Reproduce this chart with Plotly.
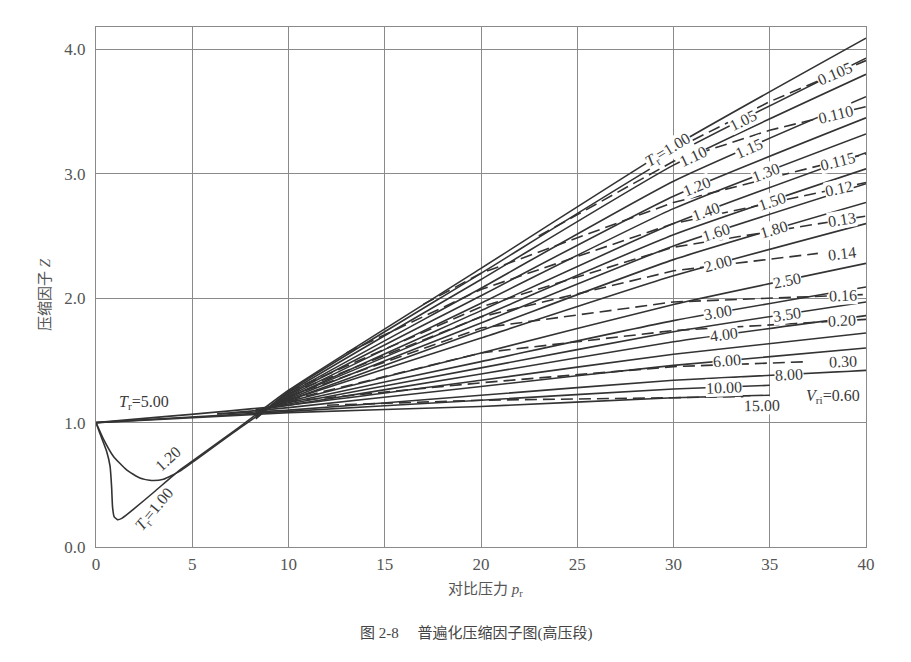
import numpy as np
import plotly.graph_objects as go

# ---------------- data ----------------
# Isotherms (solid lines), reduced temperature T_r
ISO_TR = ["1.00", "1.05", "1.10", "1.15", "1.20", "1.30", "1.40", "1.50", "1.60", "1.80",
          "2.00", "2.50", "3.00", "3.50", "4.00", "5.00", "6.00", "8.00", "10.00", "15.00"]
ISO_START_PR = [None, 8.3, 8.3, 8.3, None, 8.3, 8.3, 8.3, 8.3, 8.3,
                8.3, 8.3, 8.3, 8.3, 8.3, 0.0, 6.3, 6.3, 0.0, 0.0]
ISO_START_Z = [None, 1.03, 1.04, 1.05, None, 1.05, 1.06, 1.07, 1.07, 1.08,
               1.08, 1.09, 1.09, 1.10, 1.10, 1.00, 1.07, 1.07, 1.00, 1.00]
PR_COLS = [10, 20, 30]
ISO_Z10 = [1.26, 1.25, 1.24, 1.23, 1.22, 1.21, 1.20, 1.20, 1.19, 1.18,
           1.18, 1.17, 1.16, 1.15, 1.14, 1.14, 1.12, 1.10, 1.09, 1.08]
ISO_Z20 = [2.24, 2.20, 2.15, 2.08, 2.02, 1.96, 1.90, 1.85, 1.80, 1.74,
           1.68, 1.56, 1.49, 1.44, 1.39, 1.34, 1.29, 1.22, 1.18, 1.13]
ISO_Z30 = [3.22, 3.15, 3.07, 2.94, 2.82, 2.72, 2.60, 2.51, 2.42, 2.31,
           2.18, 1.95, 1.82, 1.73, 1.65, 1.55, 1.46, 1.34, 1.27, 1.20]
ISO_END_PR = [40, 40, 40, 40, 40, 40, 40, 40, 40, 40,
              40, 40, 40, 40, 40, 40, 40, 40, 35, 35]
ISO_Z_END = [4.09, 3.93, 3.80, 3.62, 3.45, 3.32, 3.17, 3.04, 2.92, 2.77,
             2.60, 2.28, 2.09, 1.97, 1.86, 1.72, 1.60, 1.42, 1.30, 1.22]

# low-pressure part of T_r = 1.00 and 1.20
LOW_PR_TR100 = [0, 0.21, 0.55, 0.73, 0.81, 0.86, 0.94, 1.11, 1.34, 2.0, 3.0, 4.36, 5.0, 7.5]
LOW_Z_TR100 = [1.0, 0.91, 0.77, 0.65, 0.485, 0.32, 0.245, 0.22, 0.23, 0.31, 0.44, 0.62, 0.69, 0.97]
LOW_PR_TR120 = [0, 0.38, 0.9, 1.59, 2.28, 2.89, 3.5, 4.36, 5.0, 7.5]
LOW_Z_TR120 = [1.0, 0.87, 0.73, 0.62, 0.555, 0.535, 0.545, 0.61, 0.68, 0.96]

# Constant ideal reduced volume lines (dashed), V_ri
VR_LABELS = ["0.105", "0.110", "0.115", "0.12", "0.13", "0.14", "0.16", "0.20", "0.30", "0.60"]
VR_0105_PR = [31, 35, 40];          VR_0105_Z = [3.27, 3.58, 3.91]
VR_0110_PR = [23, 30, 35, 40];      VR_0110_Z = [2.50, 3.10, 3.35, 3.54]
VR_0115_PR = [17, 20, 30, 40];      VR_0115_Z = [1.95, 2.20, 2.77, 3.16]
VR_012_PR = [13, 20, 30, 40];       VR_012_Z = [1.56, 2.07, 2.60, 2.93]
VR_013_PR = [10, 20, 30, 40];       VR_013_Z = [1.25, 1.93, 2.41, 2.66]
VR_014_PR = [10, 20, 30, 37.5];     VR_014_Z = [1.23, 1.85, 2.22, 2.36]
VR_016_PR = [10, 20, 30, 40];       VR_016_Z = [1.21, 1.76, 1.97, 2.03]
VR_020_PR = [10, 20, 30, 40];       VR_020_Z = [1.18, 1.56, 1.74, 1.83]
VR_030_PR = [10, 20, 30, 37];       VR_030_Z = [1.17, 1.32, 1.45, 1.49]
VR_060_PR = [12, 20, 30, 34];       VR_060_Z = [1.14, 1.18, 1.20, 1.21]

X_TICKS = [0, 5, 10, 15, 20, 25, 30, 35, 40]
Y_TICKS = [0.0, 1.0, 2.0, 3.0, 4.0]

# ---------------- layout / style ----------------
W, H = 911, 662
ML, MR, MT, MB = 96, 45, 27, 115
X_RANGE = [0, 40]
Y_RANGE = [0, 4.18]
PX_PER_PR = (W - ML - MR) / (X_RANGE[1] - X_RANGE[0])
PX_PER_Z = (H - MT - MB) / (Y_RANGE[1] - Y_RANGE[0])

LINE_COLOR = "#333333"
GRID_COLOR = "#8a8a8a"
TEXT_COLOR = "#3a3a3a"
SERIF = "Liberation Serif, Noto Sans CJK SC, serif"

# label positions (along pr) for isotherm labels
ISO_LABEL_PR = [29.7, 33.6, 31.0, 33.9, 31.2, 34.8, 31.7, 35.1, 32.2, 35.2,
                32.3, 35.9, 32.3, 35.9, 32.6, None, 32.8, 36.0, 32.6, 34.6]
VR_LABEL_PR = [38.4, 38.4, 38.5, 38.6, 38.75, 38.75, 38.8, 38.75, 38.8, None]

fig = go.Figure()


def add_line(xs, zs, dash=None, shape="spline"):
    fig.add_trace(go.Scatter(
        x=xs, y=zs, mode="lines",
        line=dict(color=LINE_COLOR, width=1.6, dash=dash, shape=shape, smoothing=0.5),
        hoverinfo="skip", showlegend=False))


def angle_at(xs, zs, x):
    d = 0.8
    z1 = np.interp(x - d, xs, zs)
    z2 = np.interp(x + d, xs, zs)
    s = (z2 - z1) / (2 * d) * (PX_PER_Z / PX_PER_PR)
    return -float(np.degrees(np.arctan(s)))


iso_paths = []
for i, tr in enumerate(ISO_TR):
    if tr == "1.00":
        xs = list(LOW_PR_TR100)
        zs = list(LOW_Z_TR100)
    elif tr == "1.20":
        xs = list(LOW_PR_TR120)
        zs = list(LOW_Z_TR120)
    else:
        xs = [ISO_START_PR[i]]
        zs = [ISO_START_Z[i]]
    xs += PR_COLS + [ISO_END_PR[i]]
    zs += [ISO_Z10[i], ISO_Z20[i], ISO_Z30[i], ISO_Z_END[i]]
    iso_paths.append((xs, zs))
    add_line(xs, zs)

vr_paths = [
    (VR_0105_PR, VR_0105_Z), (VR_0110_PR, VR_0110_Z), (VR_0115_PR, VR_0115_Z),
    (VR_012_PR, VR_012_Z), (VR_013_PR, VR_013_Z), (VR_014_PR, VR_014_Z),
    (VR_016_PR, VR_016_Z), (VR_020_PR, VR_020_Z), (VR_030_PR, VR_030_Z),
    (VR_060_PR, VR_060_Z),
]
for xs, zs in vr_paths:
    add_line(xs, zs, dash="12px,6px", shape="linear")

annotations = []
LABEL_FONT = dict(family=SERIF, size=16, color=TEXT_COLOR)

for i, tr in enumerate(ISO_TR):
    px = ISO_LABEL_PR[i]
    if px is None:
        continue
    xs, zs = iso_paths[i]
    y = float(np.interp(px, xs, zs))
    txt = "<i>T</i><sub>r</sub>=" + tr if tr == "1.00" else tr
    yshift = -10 if tr == "15.00" else 0
    annotations.append(dict(x=px, y=y, xref="x", yref="y", text=txt, showarrow=False,
                            textangle=angle_at(xs, zs, px), font=LABEL_FONT,
                            xanchor="center", yanchor="middle",
                            bgcolor="white", borderpad=0, yshift=yshift))

for j, lab in enumerate(VR_LABELS):
    px = VR_LABEL_PR[j]
    if px is None:
        continue
    xs, zs = vr_paths[j]
    y = float(np.interp(px, xs, zs))
    annotations.append(dict(x=px, y=y, xref="x", yref="y", text=lab, showarrow=False,
                            textangle=angle_at(xs, zs, min(px, xs[-1] - 0.9)),
                            xanchor="center", yanchor="middle",
                            font=LABEL_FONT, bgcolor="white", borderpad=0))

# V_ri = 0.60 label
annotations.append(dict(x=38.3, y=VR_060_Z[-1], xref="x", yref="y",
                        text="<i>V</i><sub>ri</sub>=0.60", showarrow=False,
                        xanchor="center", yanchor="middle",
                        font=LABEL_FONT, bgcolor="white", borderpad=0))
# low-pressure labels
annotations.append(dict(x=2.5, y=1.16, xref="x", yref="y", xanchor="center", yanchor="middle",
                        text="<i>T</i><sub>r</sub>=5.00", showarrow=False, font=LABEL_FONT))
annotations.append(dict(x=3.75, y=0.71, xref="x", yref="y", text="1.20", showarrow=False,
                        xanchor="center", yanchor="middle", textangle=-42, font=LABEL_FONT))
annotations.append(dict(x=3.05, y=0.30, xref="x", yref="y",
                        text="<i>T</i><sub>r</sub>=1.00", showarrow=False,
                        xanchor="center", yanchor="middle", textangle=-50, font=LABEL_FONT))

PW, PH = W - ML - MR, H - MT - MB
# axis titles and caption
annotations.append(dict(x=(485 - ML) / PW, y=(H - MB - 590) / PH,
                        xref="paper", yref="paper", text="对比压力 <i>p</i><sub>r</sub>",
                        xanchor="center", yanchor="middle",
                        showarrow=False, font=dict(family=SERIF, size=15, color="#555")))
annotations.append(dict(x=(45 - ML) / PW, y=(H - MB - 295) / PH,
                        xref="paper", yref="paper", text="压缩因子 <i>Z</i>", textangle=-90,
                        xanchor="center", yanchor="middle",
                        showarrow=False, font=dict(family=SERIF, size=15, color="#555")))
annotations.append(dict(x=(476 - ML) / PW, y=(H - MB - 633) / PH,
                        xref="paper", yref="paper", text="图 2-8　 普遍化压缩因子图(高压段)",
                        xanchor="center", yanchor="middle",
                        showarrow=False, font=dict(family=SERIF, size=15, color="#444")))

fig.update_layout(
    width=W, height=H,
    margin=dict(l=ML, r=MR, t=MT, b=MB),
    paper_bgcolor="white", plot_bgcolor="white",
    showlegend=False,
    annotations=annotations,
    xaxis=dict(range=X_RANGE, tickvals=X_TICKS, ticktext=[str(v) for v in X_TICKS],
               showgrid=True, gridcolor=GRID_COLOR, gridwidth=1,
               showline=True, linecolor=GRID_COLOR, linewidth=1, mirror=True,
               zeroline=False, ticks="", ticklabelstandoff=2,
               tickfont=dict(family=SERIF, size=17, color="#555")),
    yaxis=dict(range=Y_RANGE, tickvals=Y_TICKS, ticktext=["%.1f" % v for v in Y_TICKS],
               showgrid=True, gridcolor=GRID_COLOR, gridwidth=1,
               showline=True, linecolor=GRID_COLOR, linewidth=1, mirror=True,
               zeroline=False, ticks="", ticklabelstandoff=6,
               tickfont=dict(family=SERIF, size=17, color="#555")),
)

fig.write_html("out.html")
